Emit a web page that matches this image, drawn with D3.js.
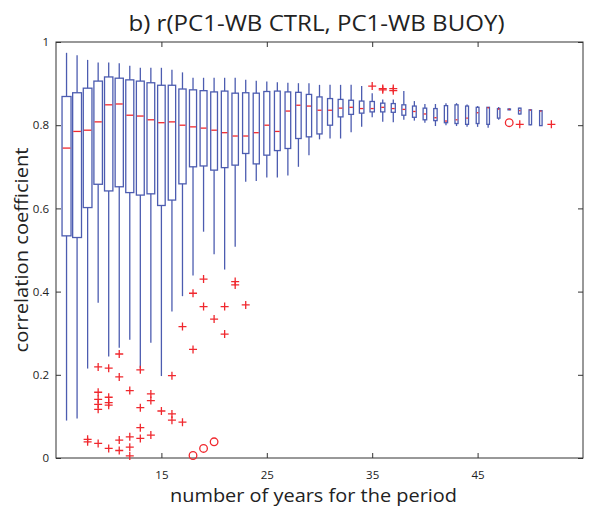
<!DOCTYPE html>
<html>
<head>
<meta charset="utf-8">
<script src="https://cdn.jsdelivr.net/npm/d3@7"></script>
<style>
  html, body { margin: 0; padding: 0; background: #fff; }
  svg { display: block; }
  text { font-family: "Open Sans", "Noto Sans", sans-serif; fill: #222; }
</style>
</head>
<body>
<svg id="chart" width="589" height="509"></svg>
<script>
// ---- data ----
const positions = [6,7,8,9,10,11,12,13,14,15,16,17,18,19,20,21,22,23,24,25,26,27,28,29,30,31,32,33,34,35,36,37,38,39,40,41,42,43,44,45,46,47,48,49,50,51];
const whiskerHi = [0.974,0.968,0.957,0.951,0.951,0.949,0.943,0.938,0.938,0.938,0.933,0.927,0.914,0.914,0.914,0.914,0.914,0.909,0.907,0.905,0.903,0.902,0.901,0.901,0.897,0.897,0.897,0.897,0.894,0.877,0.862,0.862,0.882,0.858,0.851,0.851,0.853,0.853,0.850,0.846,0.844,0.844,0.840,0.842,0.838,0.836];
const q3 = [0.869,0.878,0.889,0.906,0.916,0.913,0.909,0.906,0.902,0.896,0.896,0.887,0.885,0.883,0.880,0.882,0.877,0.878,0.877,0.881,0.882,0.880,0.879,0.874,0.868,0.864,0.862,0.860,0.858,0.857,0.853,0.852,0.849,0.846,0.841,0.840,0.847,0.849,0.846,0.843,0.843,0.840,0.839,0.841,0.837,0.835];
const medians = [0.745,0.785,0.788,0.808,0.849,0.851,0.824,0.822,0.813,0.806,0.808,0.800,0.796,0.793,0.788,0.782,0.774,0.774,0.782,0.800,0.785,0.834,0.848,0.846,0.836,0.836,0.841,0.843,0.840,0.840,0.843,0.840,0.838,0.833,0.827,0.818,0.810,0.813,0.817,0.830,0.842,0.839,0.838,0.835,0.836,0.834];
const q1 = [0.534,0.530,0.602,0.658,0.642,0.652,0.638,0.632,0.635,0.607,0.620,0.659,0.700,0.702,0.692,0.698,0.704,0.732,0.707,0.728,0.739,0.744,0.768,0.772,0.779,0.800,0.820,0.826,0.829,0.832,0.832,0.831,0.824,0.819,0.813,0.811,0.806,0.804,0.802,0.804,0.802,0.817,0.837,0.827,0.801,0.799];
const whiskerLo = [0.090,0.095,0.215,0.373,0.244,0.265,0.284,0.216,0.277,0.197,0.352,0.389,0.439,0.544,0.490,0.453,0.508,0.664,0.666,0.674,0.674,0.679,0.700,0.728,0.766,0.768,0.768,0.783,0.796,0.819,0.808,0.807,0.813,0.811,0.806,0.798,0.800,0.798,0.796,0.796,0.794,0.813,0.836,0.826,0.800,0.798];

// outliers drawn as '+'
const plusX = [8,8, 9,9,9,9,9,9, 10,10,10,10,10, 11,11,11,11, 12,12,12,12, 13,13,13,13, 14,14,14, 15, 16,16,16, 17,17, 18,18, 19,19, 20, 21,21, 22,22, 23, 35, 36,36, 37,37, 49, 52];
const plusY = [0.045,0.039, 0.219,0.158,0.141,0.129,0.117,0.035, 0.216,0.146,0.133,0.127,0.023, 0.250,0.195,0.043,0.018, 0.162,0.051,0.026,0.005, 0.212,0.121,0.073,0.047, 0.154,0.138,0.055, 0.113, 0.198,0.106,0.091, 0.316,0.086, 0.396,0.261, 0.430,0.364, 0.334, 0.364,0.298, 0.424,0.416, 0.368, 0.894, 0.888,0.885, 0.888,0.883, 0.802, 0.802];
// outliers drawn as 'o'
const circX = [18, 19, 20, 48];
const circY = [0.006, 0.023, 0.039, 0.806];

const xTicks = [15, 25, 35, 45];
const yTicks = [0, 0.2, 0.4, 0.6, 0.8, 1];
const yTickLabels = ["0", "0.2", "0.4", "0.6", "0.8", "1"];
const titleText = "b) r(PC1-WB CTRL, PC1-WB BUOY)";
const xLabel = "number of years for the period";
const yLabel = "correlation coefficient";

// ---- layout ----
const L = 56, R = 583, T = 42, B = 458;
const svg = d3.select("#chart");
const x = d3.scaleLinear().domain([5, 55]).range([L, R]);
const y = d3.scaleLinear().domain([0, 1]).range([B, T]);

const blue = "#4c5cb0";
const red = "#f0282e";
const axisCol = "#333";

// box frame
svg.append("rect").attr("x", L).attr("y", T).attr("width", R - L).attr("height", B - T)
  .attr("fill", "none").attr("stroke", axisCol).attr("stroke-width", 1);

// axes with inward ticks
const tickLen = 5;
const xAxisB = d3.axisBottom(x).tickValues(xTicks).tickSize(-tickLen).tickPadding(13).tickFormat(d3.format("d"));
const gxb = svg.append("g").attr("transform", `translate(0,${B})`).call(xAxisB);
const xAxisT = d3.axisTop(x).tickValues(xTicks).tickSize(-tickLen).tickFormat("");
const gxt = svg.append("g").attr("transform", `translate(0,${T})`).call(xAxisT);
const yAxisL = d3.axisLeft(y).tickValues(yTicks).tickSize(-tickLen).tickPadding(7).tickFormat((d, i) => yTickLabels[i]);
const gyl = svg.append("g").attr("transform", `translate(${L},0)`).call(yAxisL);
const yAxisR = d3.axisRight(y).tickValues(yTicks).tickSize(-tickLen).tickFormat("");
const gyr = svg.append("g").attr("transform", `translate(${R},0)`).call(yAxisR);
[gxb, gxt, gyl, gyr].forEach(g => {
  g.select(".domain").remove();
  g.selectAll(".tick line").attr("stroke", axisCol);
  g.selectAll(".tick text").attr("font-size", 11.5).attr("fill", "#222")
    .style("font-family", "'Open Sans', sans-serif");
});

// boxes
const boxes = positions.map((p, i) => ({p, hi: whiskerHi[i], q3: q3[i], med: medians[i], q1: q1[i], lo: whiskerLo[i]}));
const boxW = p => Math.max(2.5, 9 - 0.16 * (p - 6));

const gb = svg.append("g");
const bg = gb.selectAll("g.box").data(boxes).join("g").attr("class", "box");
bg.append("line").attr("x1", d => x(d.p)).attr("x2", d => x(d.p))
  .attr("y1", d => y(d.hi)).attr("y2", d => y(d.q3))
  .attr("stroke", blue).attr("stroke-width", 1.3);
bg.append("line").attr("x1", d => x(d.p)).attr("x2", d => x(d.p))
  .attr("y1", d => y(d.q1)).attr("y2", d => y(d.lo))
  .attr("stroke", blue).attr("stroke-width", 1.3);
bg.append("rect")
  .attr("x", d => x(d.p) - boxW(d.p) / 2).attr("width", d => boxW(d.p))
  .attr("y", d => y(d.q3)).attr("height", d => Math.max(0.8, y(d.q1) - y(d.q3)))
  .attr("fill", "none").attr("stroke", blue).attr("stroke-width", 1.3);
bg.append("line")
  .attr("x1", d => x(d.p) - boxW(d.p) / 2 + 0.6).attr("x2", d => x(d.p) + boxW(d.p) / 2 - 0.6)
  .attr("y1", d => y(d.med)).attr("y2", d => y(d.med))
  .attr("stroke", red).attr("stroke-width", 1.3);

// '+' outliers
const plus = plusX.map((px, i) => ({px, py: plusY[i]}));
const s = 4;
svg.append("g").selectAll("path").data(plus).join("path")
  .attr("d", d => `M${x(d.px) - s},${y(d.py)}H${x(d.px) + s}M${x(d.px)},${y(d.py) - s}V${y(d.py) + s}`)
  .attr("stroke", red).attr("stroke-width", 1.3).attr("fill", "none");

// 'o' outliers
const circ = circX.map((cx, i) => ({cx, cy: circY[i]}));
svg.append("g").selectAll("circle").data(circ).join("circle")
  .attr("cx", d => x(d.cx)).attr("cy", d => y(d.cy)).attr("r", 3.8)
  .attr("fill", "none").attr("stroke", red).attr("stroke-width", 1.3);

// title and labels
svg.append("text").attr("x", 316.5).attr("y", 31).attr("text-anchor", "middle")
  .attr("font-size", 21).attr("textLength", 376).attr("lengthAdjust", "spacingAndGlyphs")
  .text(titleText);
svg.append("text").attr("x", 313.5).attr("y", 502).attr("text-anchor", "middle")
  .attr("font-size", 19).attr("textLength", 287).attr("lengthAdjust", "spacingAndGlyphs")
  .text(xLabel);
svg.append("text").attr("transform", "translate(28,250) rotate(-90)").attr("text-anchor", "middle")
  .attr("font-size", 19).attr("textLength", 205).attr("lengthAdjust", "spacingAndGlyphs")
  .text(yLabel);
</script>
</body>
</html>
